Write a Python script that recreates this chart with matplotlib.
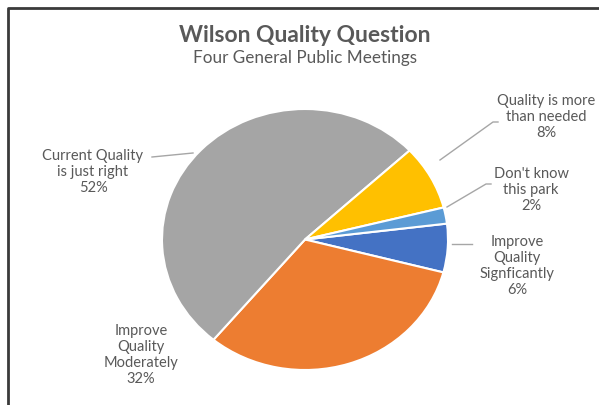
import matplotlib
matplotlib.use("Agg")
import matplotlib.pyplot as plt

labels = ["Improve\nQuality\nSignficantly\n6%",
          "Improve\nQuality\nModerately\n32%",
          "Current Quality\nis just right\n52%",
          "Quality is more\nthan needed\n8%",
          "Don't know\nthis park\n2%"]
values = [6, 32, 52, 8, 2]
colors = ["#4472C4", "#ED7D31", "#A5A5A5", "#FFC000", "#5B9BD5"]

title = "Wilson Quality Question"
subtitle = "Four General Public Meetings"

W, H = 599, 405
K = 130.5 / 143.0  # vertical squash of the reference
fig = plt.figure(figsize=(W / 100, H / 100), dpi=100)
ax = fig.add_axes([0, 0, 1, 1])
plt.rcParams['font.family'] = ['Lato', 'DejaVu Sans']

def Y(y):
    return (H - y) / K

cx, cy, r = 305, 239.5, 143
ax.pie(values, colors=colors, startangle=7, counterclock=False,
       center=(cx, Y(cy)), radius=r, frame=True,
       wedgeprops=dict(edgecolor="white", linewidth=1.5))
ax.set_xlim(0, W)
ax.set_ylim(0, H / K)
ax.set_aspect("auto")
ax.axis("off")

tc = "#595959"
ax.text(305, Y(35), title, ha="center", va="center", fontsize=16.5,
        fontweight="bold", color=tc)
ax.text(305, Y(58), subtitle, ha="center", va="center", fontsize=12.3, color=tc)

lbl_pos = [(517, 266), (141, 355), (93, 172), (546, 117), (531, 190)]
for lab, (x, y) in zip(labels, lbl_pos):
    ax.text(x, Y(y), lab, ha="center", va="center", fontsize=10.5,
            color=tc, linespacing=1.2)

lc = "#A6A6A6"
lines = [
    [(452, 244), (472, 244)],
    [(152, 157), (193, 153)],
    [(440, 160), (493, 122), (498, 122)],
    [(447, 207), (486, 184), (491, 184)],
]
for seg in lines:
    xs = [p[0] for p in seg]
    ys = [Y(p[1]) for p in seg]
    ax.plot(xs, ys, color=lc, lw=1)

# chart frame
ax.plot([8, 8, 599], [Y(405), Y(8), Y(8)], color="#3a3a3a", lw=2,
        solid_capstyle="butt", clip_on=False)

fig.savefig("out.png", dpi=100)
